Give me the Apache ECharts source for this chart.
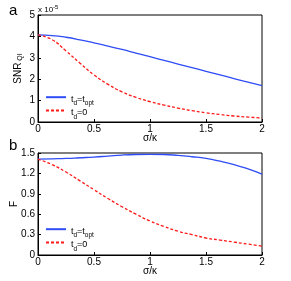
<!DOCTYPE html>
<html><head><meta charset="utf-8">
<script src="https://cdn.jsdelivr.net/npm/echarts@6/dist/echarts.min.js"></script>
<style>html,body{margin:0;padding:0;background:#fff}#c{width:291px;height:281px}</style>
</head><body><div id="c"></div>
<script>
const sigma = [0, 0.125, 0.25, 0.375, 0.5, 0.625, 0.75, 0.875, 1, 1.125, 1.25, 1.375, 1.5, 1.625, 1.75, 1.875, 2];
// SNR_QI (x 1e-5)
const snrOpt = [4.07, 4.04, 3.96, 3.84, 3.70, 3.55, 3.39, 3.22, 3.05, 2.88, 2.71, 2.54, 2.37, 2.20, 2.03, 1.86, 1.70];
const snrZero = [4.07, 3.85, 3.32, 2.75, 2.20, 1.76, 1.41, 1.15, 0.95, 0.79, 0.65, 0.53, 0.43, 0.35, 0.28, 0.23, 0.19];
// F
const fOpt = [1.41, 1.415, 1.42, 1.43, 1.44, 1.455, 1.47, 1.478, 1.48, 1.478, 1.465, 1.445, 1.42, 1.38, 1.33, 1.265, 1.19];
const fZero = [1.41, 1.33, 1.22, 1.09, 0.96, 0.83, 0.71, 0.60, 0.50, 0.42, 0.35, 0.30, 0.25, 0.22, 0.19, 0.16, 0.13];
const xTicks = [0, 0.5, 1, 1.5, 2];

const pair = (xs, ys) => xs.map((x, i) => [x, ys[i]]);
const FONT = 'Liberation Sans';
const BLUE = '#2f4cf5', RED = '#ff1a1a';
const rich = {
  n: {fontSize: 9, fontFamily: FONT, color: '#000', lineHeight: 14, verticalAlign: 'bottom'},
  s: {fontSize: 6.5, fontFamily: FONT, color: '#000', lineHeight: 14, verticalAlign: 'bottom', padding: [0, 0, -3, 0]}
};
const legFmt = name => name === 'opt' ? '{n|t}{s|d}{n|=t}{s|opt}' : '{n|t}{s|d}{n|=0}';

function xAxis(gi) {
  return {
    type: 'value', gridIndex: gi, min: 0, max: 2, interval: 0.5,
    name: 'σ/κ', nameLocation: 'middle', nameGap: 11, nameMoveOverlap: false,
    nameTextStyle: {fontFamily: FONT, fontSize: 10, color: '#000'},
    axisLine: {lineStyle: {color: '#000', width: 1}},
    axisTick: {inside: true, length: 3, lineStyle: {color: '#000'}},
    axisLabel: {fontFamily: FONT, fontSize: 10, color: '#000', margin: 2,
      formatter: v => xTicks.includes(v) ? String(v) : ''},
    splitLine: {show: false}
  };
}

const option = {
  animation: false,
  backgroundColor: '#fff',
  grid: [
    {left: 38, right: 29, top: 15, height: 107, show: true, borderColor: '#000', borderWidth: 1, containLabel: false, outerBoundsMode: 'none'},
    {left: 38, right: 29, top: 153, height: 102, show: true, borderColor: '#000', borderWidth: 1, containLabel: false, outerBoundsMode: 'none'}
  ],
  xAxis: [xAxis(0), xAxis(1)],
  yAxis: [
    {type: 'value', gridIndex: 0, min: 0, max: 5, interval: 1,
     name: '{n|SNR}{s| QI}', nameLocation: 'middle', nameGap: 15, nameRotate: 90, nameMoveOverlap: false,
     nameTextStyle: {rich: {n: {fontSize: 10, fontFamily: FONT, color: '#000'}, s: {fontSize: 7, fontFamily: FONT, color: '#000', padding: [0, 0, -4, 0]}}},
     axisLine: {show: true, lineStyle: {color: '#000'}},
     axisTick: {show: true, inside: true, length: 3, lineStyle: {color: '#000'}},
     axisLabel: {fontFamily: FONT, fontSize: 10, color: '#000', margin: 3},
     splitLine: {show: false}},
    {type: 'value', gridIndex: 1, min: 0, max: 1.5, interval: 0.3,
     name: 'F', nameLocation: 'middle', nameGap: 19, nameRotate: 90, nameMoveOverlap: false,
     nameTextStyle: {fontFamily: FONT, fontSize: 10, color: '#000'},
     axisLine: {show: true, lineStyle: {color: '#000'}},
     axisTick: {show: true, inside: true, length: 3, lineStyle: {color: '#000'}},
     axisLabel: {fontFamily: FONT, fontSize: 10, color: '#000', margin: 3, formatter: v => v === 0 ? '0' : v.toFixed(1)},
     splitLine: {show: false}}
  ],
  legend: [
    {left: 45, top: 94, orient: 'vertical', itemWidth: 20, itemHeight: 8, itemGap: 0, padding: 0,
     data: ['opt', 'zero'], formatter: legFmt, textStyle: {rich: rich}, itemStyle: {opacity: 0}},
    {left: 45, top: 226, orient: 'vertical', itemWidth: 20, itemHeight: 8, itemGap: 0, padding: 0,
     data: ['opt', 'zero'], formatter: legFmt, textStyle: {rich: rich}, itemStyle: {opacity: 0}}
  ],
  graphic: [
    {type: 'text', left: 9, top: 3, style: {text: 'a', fontFamily: FONT, fontSize: 15, fill: '#000'}},
    {type: 'text', left: 9, top: 138, style: {text: 'b', fontFamily: FONT, fontSize: 15, fill: '#000'}},
    {type: 'text', left: 38, top: 4, style: {rich: {n: {fontSize: 8, fontFamily: FONT, fill: '#000'}, e: {fontSize: 6, fontFamily: FONT, fill: '#000', padding: [0, 0, 5, 0]}}, text: '{n|x 10}{e|-5}'}}
  ],
  series: [
    {name: 'opt', type: 'line', xAxisIndex: 0, yAxisIndex: 0, data: pair(sigma, snrOpt), smooth: true, showSymbol: false, symbol: 'none', lineStyle: {color: BLUE, width: 1.3}, itemStyle: {color: BLUE}},
    {name: 'zero', type: 'line', xAxisIndex: 0, yAxisIndex: 0, data: pair(sigma, snrZero), smooth: true, showSymbol: false, symbol: 'none', lineStyle: {color: RED, width: 1.3, type: [3, 2]}, itemStyle: {color: RED}},
    {name: 'opt', type: 'line', xAxisIndex: 1, yAxisIndex: 1, data: pair(sigma, fOpt), smooth: true, showSymbol: false, symbol: 'none', lineStyle: {color: BLUE, width: 1.3}, itemStyle: {color: BLUE}},
    {name: 'zero', type: 'line', xAxisIndex: 1, yAxisIndex: 1, data: pair(sigma, fZero), smooth: true, showSymbol: false, symbol: 'none', lineStyle: {color: RED, width: 1.3, type: [3, 2]}, itemStyle: {color: RED}}
  ]
};
const chart = echarts.init(document.getElementById('c'), null, {renderer: 'canvas'});
chart.setOption(option);
</script>
</body></html>
